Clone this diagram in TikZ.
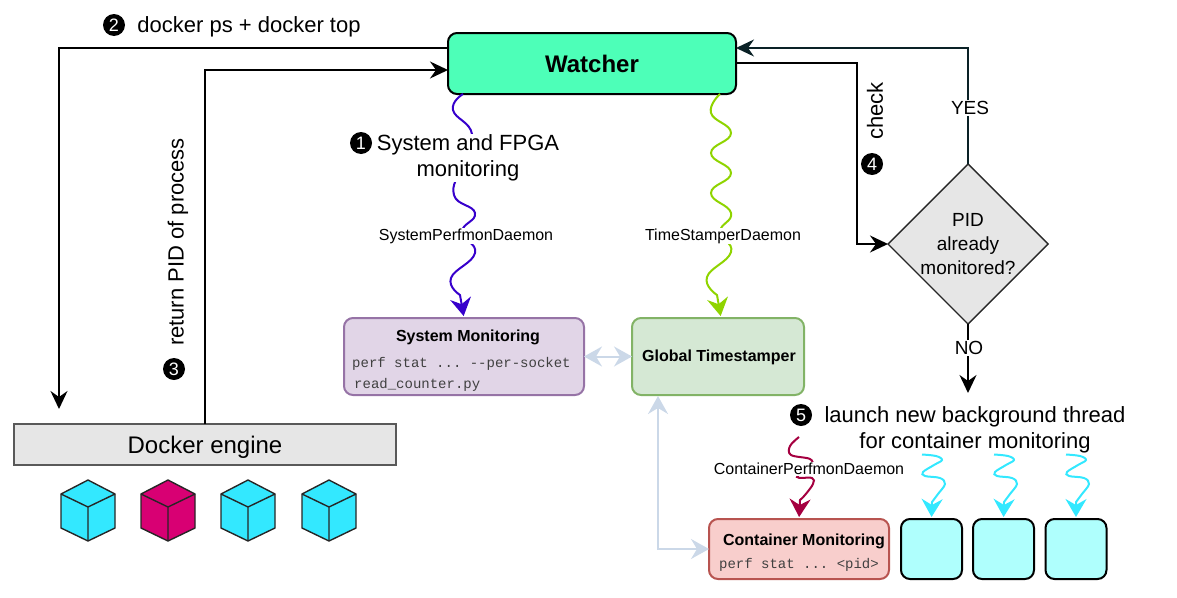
\documentclass[tikz,border=0pt]{standalone}
\usepackage{fontspec}
\setmainfont{Liberation Sans}
\setmonofont{Liberation Mono}
\usetikzlibrary{shapes.geometric,arrows.meta,positioning}
\definecolor{watcherfill}{HTML}{4DFFB8}
\definecolor{enginegray}{HTML}{E6E6E6}
\definecolor{sysfill}{HTML}{E1D5E7}
\definecolor{sysdraw}{HTML}{9673A6}
\definecolor{globfill}{HTML}{D5E8D4}
\definecolor{globdraw}{HTML}{82B366}
\definecolor{contfill}{HTML}{F8CECC}
\definecolor{contdraw}{HTML}{B85450}
\definecolor{threadfill}{HTML}{AFFFFD}
\definecolor{cubecyan}{HTML}{33E8FF}
\definecolor{cubepink}{HTML}{D80073}
\definecolor{wavepurple}{HTML}{3700CC}
\definecolor{wavegreen}{HTML}{8FD400}
\definecolor{wavered}{HTML}{A50040}
\definecolor{linkblue}{HTML}{CBD8E8}
\definecolor{yesdark}{HTML}{0A2126}
\tikzstyle{bigtip} = [-{Stealth[length=18pt,width=17pt,inset=6pt]}]
\tikzstyle{arrow} = [line width=2pt,bigtip]
\tikzstyle{wave} = [line width=2pt,-{Stealth[length=18pt,width=21pt,inset=6pt]},shorten >=2pt]
\tikzstyle{link} = [line width=2pt,linkblue,{Stealth[length=18pt,width=20pt,inset=6pt]}-{Stealth[length=18pt,width=20pt,inset=6pt]}]
\tikzstyle{box} = [draw,rounded corners=9pt,line width=2pt,outer sep=0pt,inner sep=0pt]
\tikzstyle{big} = [font=\fontsize{22}{26}\selectfont,align=center,inner sep=1pt]
\tikzstyle{small} = [font=\fontsize{16}{18}\selectfont,fill=white,inner sep=1pt]
\tikzstyle{title} = [font=\bfseries\fontsize{16}{18}\selectfont,inner sep=0pt]
\tikzstyle{code} = [font=\ttfamily\fontsize{14}{16}\selectfont,text=black!75,inner sep=0pt]
\tikzstyle{num} = [circle,fill=black,text=white,inner sep=0pt,minimum size=22pt,font=\fontsize{18}{18}\selectfont]
\begin{document}
\begin{tikzpicture}[x=1pt,y=-1pt]
    \useasboundingbox (0,0) rectangle (1177,597);

    % main boxes
    \node[box,fill=watcherfill,minimum width=288pt,minimum height=61pt,font=\bfseries\fontsize{24}{28}\selectfont] (watcher) at (592,63.5) {Watcher};
    \node[draw=black!65,fill=enginegray,line width=2pt,outer sep=0pt,inner sep=0pt,minimum width=382pt,minimum height=41pt,font=\fontsize{24}{28}\selectfont,text height=18pt,text depth=0pt] (engine) at (205,444.5) {Docker engine};
    \node[diamond,draw=black!85,fill=enginegray,line width=1.4pt,outer sep=0pt,inner sep=0pt,aspect=1,minimum width=160pt,minimum height=160pt] (check) at (968,244) {};
    \node[font=\fontsize{19}{24}\selectfont,align=center,inner sep=0pt] (checktext) at (968,244) {PID\\already\\monitored?};

    % monitoring boxes
    \node[box,draw=sysdraw,fill=sysfill,minimum width=240pt,minimum height=77pt] (sysmon) at (464,356.5) {};
    \node[box,draw=globdraw,fill=globfill,minimum width=172pt,minimum height=77pt] (glob) at (718,356.5) {};
    \node[box,draw=contdraw,fill=contfill,minimum width=180pt,minimum height=60pt] (cont) at (799,549) {};
    \node[title] (systitle) at (468,337) {System Monitoring};
    \node[code,anchor=west] (syscode) at (352,364) {perf stat ... --per-socket};
    \node[code,anchor=west] (syspy) at (354,385) {read\_counter.py};
    \node[title] (globtitle) at (719,357) {Global Timestamper};
    \node[title] (conttitle) at (804,541) {Container Monitoring};
    \node[code] (contcode) at (799,565) {perf stat ... <pid>};
    \node[box,fill=threadfill,minimum width=61pt,minimum height=60pt] (t1) at (931.5,549) {};
    \node[box,fill=threadfill,minimum width=61pt,minimum height=60pt] (t2) at (1003.5,549) {};
    \node[box,fill=threadfill,minimum width=61pt,minimum height=60pt] (t3) at (1076,549) {};

    % free ends
    \coordinate (sysstart) at (463,94);
    \coordinate (globstart) at (720,94);
    \coordinate (globend) at (721,318);
    \coordinate (redstart) at (799,437);
    \coordinate (threads) at (968,393);
    \coordinate (enginetop) at (59,409);

    % black connectors
    \draw[arrow] (watcher.west |- 0,48) -- (59,48) -- (enginetop);
    \draw[arrow] (engine.north) -- (205,70) -- (watcher.west |- 0,70);
    \draw[arrow] (watcher.east |- 0,63) -- (857,63) -- (857,244) -- (check.west);
    \draw[arrow,yesdark] (check.north) -- (968,48) -- (watcher.east |- 0,48);
    \draw[arrow] (check.south) -- (threads);

    % daemons
    \draw[wave,wavepurple] plot[smooth,tension=.8] coordinates {(sysstart) (453,110) (472,134) (462,165) (454,195) (475,213) (462,232) (475,253) (451,278) (460,295)} -- (sysmon.north);
    \draw[wave,wavegreen] plot[smooth,tension=.8] coordinates {(globstart) (711,113) (731,133) (711,153) (731,173) (711,193) (731,213) (720,232) (731,252) (707,277) (717,295)} -- (globend);
    \draw[wave,wavered] plot[smooth,tension=.6] coordinates {(redstart) (790,446) (791,455) (810,459) (811,466) (797,477) (812,478) (813,484) (805,495) (800,500)} -- (cont.north);
    \foreach \t/\dx in {t1/0,t2/72,t3/144}{
        \draw[wave,cubecyan] plot[smooth,tension=.6] coordinates {(922+\dx,454.5) (936+\dx,456) (942+\dx,460) (934+\dx,465) (923+\dx,472) (925+\dx,476) (940+\dx,478) (945+\dx,484) (938+\dx,494) (932+\dx,502)} -- (\t.north);
    }

    % links between monitors
    \draw[link] (sysmon.east) -- (glob.west);
    \draw[link] (658,396) -- (658,549) -- (cont.west);

    % labels
    \node[big,fill=white] (syslabel) at (468,158) {System and FPGA\\monitoring};
    \node[small] (sysdaemon) at (466,236) {SystemPerfmonDaemon};
    \node[small] (globdaemon) at (723,236) {TimeStamperDaemon};
    \node[small] (contdaemon) at (809,469) {ContainerPerfmonDaemon};
    \node[big] (dockerps) at (249,27) {docker ps + docker top};
    \node[big,rotate=90] (returnpid) at (178,242) {return PID of process};
    \node[font=\fontsize{22}{26}\selectfont,rotate=90,inner sep=0pt] (checklabel) at (875,111) {check};
    \node[font=\fontsize{19}{22}\selectfont,fill=white,inner sep=1pt] (yeslabel) at (970,108) {YES};
    \node[font=\fontsize{19}{22}\selectfont,fill=white,inner sep=1pt] (nolabel) at (969,348) {NO};
    \node[big] (launch) at (975,430) {launch new background thread\\for container monitoring};
    \node[num] (n1) at (361,143) {1};
    \node[num] (n2) at (114,25) {2};
    \node[num] (n3) at (174,369) {3};
    \node[num] (n4) at (872,164) {4};
    \node[num] (n5) at (801,415) {5};

    % containers
    \foreach \x/\c in {88/cubecyan,168/cubepink,248/cubecyan,329/cubecyan}{
        \draw[fill=\c,draw=black!85,line width=1.4pt,line join=round] (\x,480) -- (\x+27,494) -- (\x+27,528) -- (\x,541) -- (\x-27,528) -- (\x-27,494) -- cycle;
        \draw[draw=black!85,line width=1.4pt,line join=round] (\x-27,494) -- (\x,507) -- (\x+27,494) (\x,507) -- (\x,541);
    }
\end{tikzpicture}
\end{document}
